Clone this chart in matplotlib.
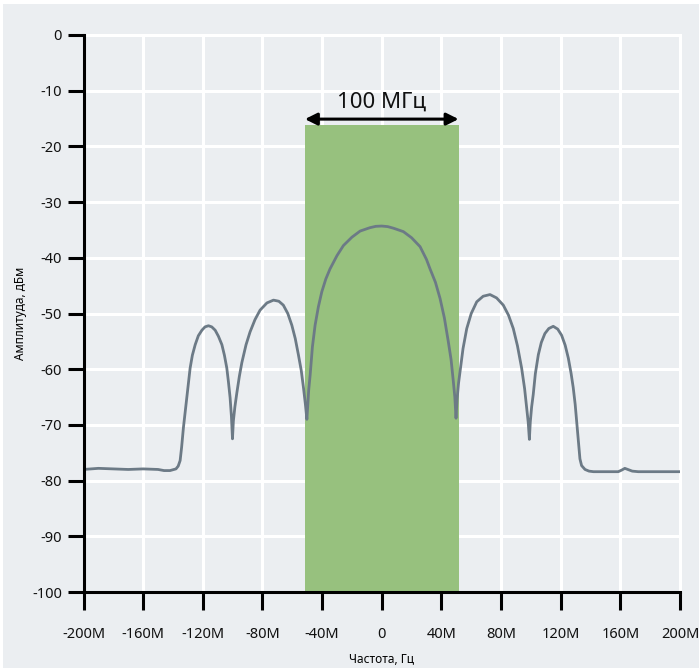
import numpy as np
import matplotlib
matplotlib.use('Agg')
import matplotlib.pyplot as plt
from matplotlib.patches import Rectangle

plt.rcParams['font.family'] = ['Noto Sans', 'DejaVu Sans']
plt.rcParams['axes.unicode_minus'] = False

BG    = '#EBEEF1'
GREEN = '#97C17E'
LINE  = '#6C7A86'

# спектр (частота в МГц, амплитуда в дБм)
freq = [-200, -190, -180, -170, -160, -150, -146, -142, -138, -136.5, -135.2,
        -134.2, -133, -131.8, -130.7, -129.6, -128.5, -127, -125.1, -123,
        -120.6, -118.5, -116.2, -114, -111.7, -109.5, -107.2, -105.5, -103.9,
        -102.8, -101.7, -100.8, -100.1,
        -99.5, -98.5, -97.2, -95.5, -93.8, -91, -88.3, -85, -81.6, -77,
        -72.6, -69, -66, -63, -60.3, -58, -55.9, -54, -52.5, -51.2, -50.2,
        -49.6, -49, -48, -46.5, -44.7, -42.5, -40.2, -37.5, -34.7, -30,
        -25.7, -20, -14.5, -8, -4, 0,
        4, 8, 14.5, 20, 25.7, 30, 32.4, 36, 39.1, 42, 44.6, 46.5, 48, 49,
        49.8,
        50.5, 51.5, 52.5, 54.5, 57, 60, 63.7, 68, 72.6, 77, 81.5, 85, 88.2,
        91, 93.8, 95.8, 97.2, 98.2, 99,
        99.6, 100.5, 101.6, 103, 105, 107, 109.4, 112, 115, 118, 120.6, 123,
        125.1, 127, 128.4, 129.7, 130.7, 131.8, 132.9, 134, 136.3, 139, 142,
        150, 158.6, 161, 163, 165, 168, 172, 180, 190, 200]
ampl = [-78.0, -77.8, -77.9, -78.0, -77.9, -78.0, -78.2, -78.2, -77.9, -77.4,
        -76.4, -74.0, -70.5, -67.6, -65.1, -62.3, -59.8, -57.5, -55.6, -54.0,
        -53.0, -52.4, -52.2, -52.4, -53.0, -54.1, -55.6, -57.5, -59.8,
        -62.3, -65.1, -68.5, -72.5,
        -69.3, -66.8, -64.3, -61.3, -58.8, -55.6, -53.3, -51.1, -49.4, -48.1,
        -47.6, -47.8, -48.5, -50.0, -52.1, -54.5, -57.4, -60.2, -63.3, -66.3,
        -69.0,
        -66.5, -63.8, -61.0, -56.0, -52.1, -48.8, -46.1, -43.8, -42.0, -39.6,
        -37.8, -36.3, -35.2, -34.6, -34.35, -34.3,
        -34.4, -34.7, -35.3, -36.4, -38.0, -40.3, -42.0, -44.4, -47.3, -50.8,
        -55.0, -58.3, -62.2, -65.0, -68.8,
        -65.5, -62.5, -60.4, -56.3, -52.7, -50.0, -47.9, -46.9, -46.6, -47.2,
        -48.5, -50.3, -52.7, -55.8, -59.8, -63.5, -66.9, -69.5, -72.6,
        -69.5, -66.8, -64.5, -60.8, -57.4, -55.2, -53.6, -52.7, -52.3, -52.8,
        -53.9, -55.7, -58.0, -60.8, -63.3, -66.3, -69.3, -72.8, -76.1, -77.3,
        -78.0, -78.3, -78.4,
        -78.4, -78.4, -78.1, -77.8, -78.0, -78.3, -78.4, -78.4, -78.4, -78.4]

band     = [-51.5, 51.5]   # полоса 100 МГц
band_top = -16.2
arrow_y  = -15.1
xticks   = [-200, -160, -120, -80, -40, 0, 40, 80, 120, 160, 200]
xlabels  = ['-200M', '-160M', '-120M', '-80M', '-40M', '0',
            '40M', '80M', '120M', '160M', '200M']
yticks   = list(range(-100, 1, 10))

fig = plt.figure(figsize=(6.99, 6.68), dpi=100, facecolor='white')
fig.patches.append(Rectangle((3/699, 0), 1, 1 - 4/668, transform=fig.transFigure,
                             facecolor=BG, edgecolor='none', zorder=-10))
ax = fig.add_axes([83.5/699, 1 - 592/668, (680 - 83.5)/699, (592 - 35)/668])
ax.set_facecolor(BG)

ax.add_patch(Rectangle((band[0], -100), band[1] - band[0], band_top + 100,
                       facecolor=GREEN, edgecolor='none', zorder=1))
ax.plot(freq, ampl, color=LINE, lw=2.0, solid_joinstyle='round', zorder=3)

ax.annotate('', xy=(band[0], arrow_y), xytext=(band[1], arrow_y),
            arrowprops=dict(arrowstyle='<|-|>', color='black', lw=2.2,
                            mutation_scale=18, shrinkA=0, shrinkB=0), zorder=4)
ax.text(0, arrow_y + 1.1, '100 МГц', ha='center', va='bottom',
        fontsize=16, fontweight='medium', color='#111111')

ax.set_xlim(-200, 200)
ax.set_ylim(-100, 0)
ax.set_xticks(xticks)
ax.set_xticklabels(xlabels)
ax.set_yticks(yticks)
ax.set_axisbelow(True)
ax.grid(True, color='white', lw=2.2)
for g in ax.get_xgridlines() + ax.get_ygridlines():
    g.set_clip_on(False)

for s in ['top', 'right']:
    ax.spines[s].set_visible(False)
for s in ['left', 'bottom']:
    ax.spines[s].set_linewidth(2.2)
    ax.spines[s].set_color('black')
    ax.spines[s].set_zorder(5)

ax.tick_params(axis='y', length=11.5, width=2.2, pad=4, labelsize=10.5,
               labelcolor='#111111')
ax.tick_params(axis='x', length=13, width=2.2, pad=12, labelsize=10.5,
               labelcolor='#111111')
for lab in ax.get_xticklabels() + ax.get_yticklabels():
    lab.set_fontweight('semibold')

ax.set_xlabel('Частота, Гц', fontsize=8.5, fontweight='medium', labelpad=8)
ax.set_ylabel('Амплитуда, дБм', fontsize=8.5, fontweight='medium', labelpad=4)

plt.savefig('out.png', dpi=100, facecolor=fig.get_facecolor())
